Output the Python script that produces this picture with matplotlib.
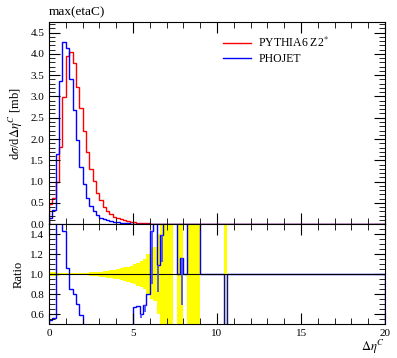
import numpy as np
import matplotlib
matplotlib.use("Agg")
import matplotlib.pyplot as plt
from matplotlib.ticker import MultipleLocator

plt.rcParams['font.family'] = ['Liberation Serif', 'DejaVu Serif']
plt.rcParams['mathtext.fontset'] = 'stix'

# bins of width 0.2 in delta eta^C, 0..20
edges = np.linspace(0, 20, 101)

pythia = [0.48, 0.62, 1.00, 1.82, 2.99, 3.94, 4.04, 3.78, 3.23, 2.72,
          2.20, 1.69, 1.30, 1.02, 0.74, 0.56, 0.40, 0.31, 0.24, 0.17,
          0.14, 0.11, 0.09, 0.07, 0.055, 0.045, 0.035, 0.027, 0.02, 0.015,
          0.011, 0.008, 0.006, 0.004, 0.003, 0.002, 0.0015, 0.001, 0.0008, 0.0005]
phojet = [0.15, 0.32, 1.64, 3.37, 4.27, 4.14, 3.40, 2.68, 1.97, 1.35,
          0.94, 0.62, 0.43, 0.31, 0.21, 0.15, 0.12, 0.09, 0.07, 0.05,
          0.04, 0.03, 0.022, 0.016, 0.012, 0.009, 0.006, 0.004, 0.003, 0.002]

# PHOJET / PYTHIA ratio as drawn (bins 0..53), 1 beyond
ratio = [0.54, 0.56, 1.7, 1.9, 1.43, 1.06, 0.85, 0.80, 0.70, 0.59,
         0.45, 0.3, 0.3, 0.3, 0.3, 0.3, 0.3, 0.3, 0.3, 0.3,
         0.3, 0.3, 0.3, 0.3, 0.3, 0.67, 0.68, 0.60, 0.69, 0.80,
         1.43, 1.6, 1.09, 1.39, 1.6, 1.6, 1.6, 1.6, 1.0, 1.16,
         1.0, 1.6, 1.6, 1.6, 1.6, 1.0, 1.0, 1.0, 1.0, 1.0,
         1.0, 1.0, 0.3, 1.0]
# lower end of the ratio error bars where they show (bin index -> value)
ratio_err_bins = [27, 28, 30, 32, 33, 39]
ratio_err_low = [0.56, 0.62, 0.90, 0.82, 1.12, 0.69]
# relative error of the PYTHIA reference (yellow band half width), bins 0..53
band = [0.02, 0.02, 0.015, 0.012, 0.01, 0.01, 0.01, 0.01, 0.01, 0.01,
        0.012, 0.014, 0.016, 0.018, 0.02, 0.025, 0.03, 0.035, 0.04, 0.045,
        0.05, 0.058, 0.066, 0.075, 0.085, 0.10, 0.115, 0.13, 0.15, 0.20,
        0.25, 0.27, 0.40, 0.50, 0.8, 0.8, 0.8, 0.0, 0.8, 0.8,
        0.0, 0.8, 0.8, 0.8, 0.8, 0.0, 0.0, 0.0, 0.0, 0.0,
        0.0, 0.0, 0.8, 0.0]


def pad(vals, fill):
    out = np.full(len(edges) - 1, fill, dtype=float)
    out[:len(vals)] = vals
    return out


py = pad(pythia, 0.0)
ph = pad(phojet, 0.0)
rt = pad(ratio, 1.0)
bd = pad(band, 0.0)
centres = 0.5 * (edges[:-1] + edges[1:])

fig = plt.figure(figsize=(3.97, 3.58), dpi=100)
ax = fig.add_axes([0.1234, 0.374, 0.8466, 0.5645])
rax = fig.add_axes([0.1234, 0.095, 0.8466, 0.279])

ax.stairs(py, edges, color='red', lw=1.0, label='PYTHIA6 Z2$^{*}$')
ax.stairs(ph, edges, color='blue', lw=1.0, label='PHOJET')
ax.set_xlim(0, 20)
ax.set_ylim(0, 4.75)
ax.yaxis.set_major_locator(MultipleLocator(0.5))
ax.yaxis.set_minor_locator(MultipleLocator(0.1))
ax.set_ylabel(r'd$\sigma$/d$\Delta\eta^{C}$ [mb]', fontsize=9)
ax.tick_params(labelbottom=False)
ax.set_title('max(etaC)', loc='left', fontsize=9.5, pad=5)
ax.legend(loc='upper right', bbox_to_anchor=(0.865, 0.985), frameon=False,
          fontsize=8.5, handlelength=2.4, handletextpad=0.6, labelspacing=0.25)

rax.fill_between(edges, np.append(1 - bd, 1 - bd[-1]), np.append(1 + bd, 1 + bd[-1]),
                 step='post', color='yellow', lw=0)
rax.axhline(1.0, color='black', lw=0.8)
rax.stairs(rt, edges, color='blue', lw=1.0)
rax.vlines(centres[ratio_err_bins], ratio_err_low, rt[ratio_err_bins],
           color='#4040ff', lw=1.2)
rax.set_xlim(0, 20)
rax.set_ylim(0.5, 1.5)
rax.yaxis.set_major_locator(MultipleLocator(0.2))
rax.yaxis.set_minor_locator(MultipleLocator(0.05))
rax.set_ylabel('Ratio', fontsize=9)
rax.set_xlabel(r'$\Delta\eta^{C}$', fontsize=9, loc='right', labelpad=0)

for a in (ax, rax):
    a.xaxis.set_major_locator(MultipleLocator(5))
    a.xaxis.set_minor_locator(MultipleLocator(1))
    a.tick_params(which='both', direction='in', top=True, right=True, labelsize=8)
    a.tick_params(which='major', length=8)
    a.tick_params(which='minor', length=4)
    for s in a.spines.values():
        s.set_linewidth(0.8)

fig.savefig('out.png', dpi=100)
